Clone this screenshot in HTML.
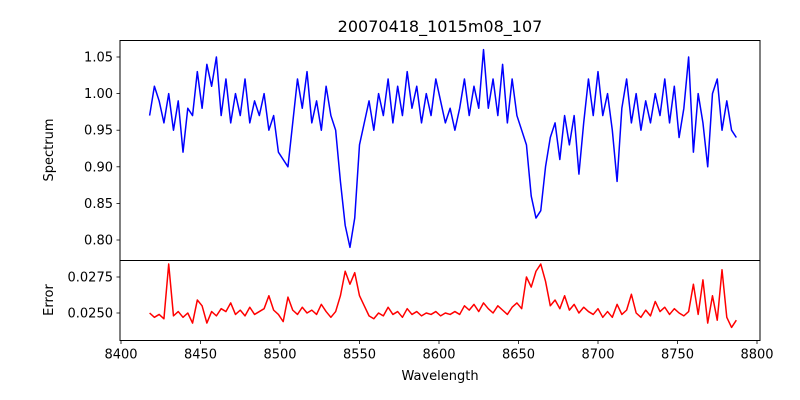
<!DOCTYPE html>
<html><head><meta charset="utf-8"><style>
body{margin:0;background:#fff;}
svg{display:block;font-family:"DejaVu Sans","Liberation Sans",sans-serif;}
</style></head><body>
<svg id="chart" width="800" height="400" xmlns="http://www.w3.org/2000/svg">
<rect width="800" height="400" fill="#fff"/>
<text x="440" y="32" font-size="16" text-anchor="middle">20070418_1015m08_107</text>
<g id="top"></g>
<g id="bot"></g>
<text x="440" y="380" font-size="13" text-anchor="middle">Wavelength</text>
<text transform="translate(53,150) rotate(-90)" font-size="13" text-anchor="middle">Spectrum</text>
<text transform="translate(53,300) rotate(-90)" font-size="13" text-anchor="middle">Error</text>
</svg>
<script>
const wavelengths = [8418,8421,8424,8427,8430,8433,8436,8439,8442,8445,8448,8451,8454,8457,8460,8463,8466,8469,8472,8475,8478,8481,8484,8487,8490,8493,8496,8499,8502,8505,8508,8511,8514,8517,8520,8523,8526,8529,8532,8535,8538,8541,8544,8547,8550,8553,8556,8559,8562,8565,8568,8571,8574,8577,8580,8583,8586,8589,8592,8595,8598,8601,8604,8607,8610,8613,8616,8619,8622,8625,8628,8631,8634,8637,8640,8643,8646,8649,8652,8655,8658,8661,8664,8667,8670,8673,8676,8679,8682,8685,8688,8691,8694,8697,8700,8703,8706,8709,8712,8715,8718,8721,8724,8727,8730,8733,8736,8739,8742,8745,8748,8751,8754,8757,8760,8763,8766,8769,8772,8775,8778,8781,8784,8787];
const spectrum = [0.97,1.01,0.99,0.96,1.00,0.95,0.99,0.92,0.98,0.97,1.03,0.98,1.04,1.01,1.05,0.97,1.02,0.96,1.00,0.97,1.02,0.96,0.99,0.97,1.00,0.95,0.97,0.92,0.91,0.90,0.96,1.02,0.98,1.03,0.96,0.99,0.95,1.01,0.97,0.95,0.88,0.82,0.79,0.83,0.93,0.96,0.99,0.95,1.00,0.97,1.02,0.96,1.01,0.97,1.03,0.98,1.01,0.96,1.00,0.97,1.02,0.99,0.96,0.98,0.95,0.98,1.02,0.97,1.01,0.98,1.06,0.98,1.02,0.97,1.04,0.96,1.02,0.97,0.95,0.93,0.86,0.83,0.84,0.90,0.94,0.96,0.91,0.97,0.93,0.97,0.89,0.96,1.02,0.97,1.03,0.97,1.00,0.95,0.88,0.98,1.02,0.96,1.00,0.95,0.99,0.96,1.00,0.97,1.02,0.96,1.01,0.94,0.98,1.05,0.92,1.00,0.96,0.90,1.00,1.02,0.95,0.99,0.95,0.94];
const errors = [0.0250,0.0247,0.0249,0.0246,0.0284,0.0248,0.0251,0.0247,0.0250,0.0243,0.0259,0.0255,0.0243,0.0251,0.0248,0.0253,0.0251,0.0257,0.0249,0.0252,0.0248,0.0254,0.0249,0.0251,0.0253,0.0262,0.0252,0.0249,0.0244,0.0261,0.0252,0.0249,0.0254,0.0250,0.0252,0.0249,0.0256,0.0251,0.0247,0.0251,0.0262,0.0279,0.0270,0.0278,0.0262,0.0255,0.0248,0.0246,0.0250,0.0248,0.0254,0.0249,0.0251,0.0247,0.0253,0.0249,0.0251,0.0248,0.0250,0.0249,0.0251,0.0248,0.0250,0.0249,0.0251,0.0249,0.0255,0.0252,0.0256,0.0251,0.0257,0.0253,0.0250,0.0255,0.0252,0.0249,0.0254,0.0257,0.0253,0.0275,0.0268,0.0279,0.0284,0.0272,0.0255,0.0259,0.0253,0.0262,0.0252,0.0256,0.0250,0.0254,0.0251,0.0249,0.0253,0.0247,0.0251,0.0247,0.0256,0.0249,0.0252,0.0263,0.0250,0.0247,0.0252,0.0248,0.0258,0.0251,0.0254,0.0249,0.0253,0.0250,0.0248,0.0251,0.0270,0.0249,0.0273,0.0243,0.0262,0.0245,0.0280,0.0247,0.0240,0.0245];
const xTicks = [8400,8450,8500,8550,8600,8650,8700,8750,8800];
const specTicks = [0.80,0.85,0.90,0.95,1.00,1.05];
const specTickLabels = ["0.80","0.85","0.90","0.95","1.00","1.05"];
const errTicks = [0.0250,0.0275];
const errTickLabels = ["0.0250","0.0275"];

const NS = "http://www.w3.org/2000/svg";
const X0 = 120, X1 = 760;
const xs = v => 121 + (v - 8400) * (636 / 400);
const ySpec = v => 57 + (1.05 - v) * 732;
const yErr = v => 313 - (v - 0.025) * (36 / 0.0025);
function mk(tag, attrs, parent) {
  const e = document.createElementNS(NS, tag);
  for (const k in attrs) e.setAttribute(k, attrs[k]);
  parent.appendChild(e);
  return e;
}
function panel(g, top, bottom, yfun, ticks, labels, vals, color, showX) {
  const n = Math.min(wavelengths.length, vals.length);
  let d = "";
  for (let i = 0; i < n; i++) d += (i ? "L" : "M") + xs(wavelengths[i]).toFixed(2) + "," + yfun(vals[i]).toFixed(2);
  const line = mk("path", {d: d, fill: "none", stroke: color, "stroke-width": 1.5, "stroke-linejoin": "round"}, g);
  
  
  ticks.forEach((t, i) => {
    const y = yfun(t);
    const tk = mk("line", {x1: X0 - 3.5, x2: X0, y1: y, y2: y, stroke: "#000", "stroke-width": 0.8}, g);
    
    
    const tx = mk("text", {x: X0 - 7, y: y + 4.5, "font-size": 13, "text-anchor": "end"}, g);
    tx.textContent = labels[i];
    
    
  });
  if (showX) {
    xTicks.forEach(t => {
      const x = xs(t);
      const tk = mk("line", {x1: x, x2: x, y1: bottom, y2: bottom + 3.5, stroke: "#000", "stroke-width": 0.8}, g);
      
      
      const tx = mk("text", {x: x, y: bottom + 18, "font-size": 13, "text-anchor": "middle"}, g);
      tx.textContent = t;
      
      
    });
  }
  const fr = mk("rect", {x: X0, y: top, width: X1 - X0, height: bottom - top, fill: "none", stroke: "#000", "stroke-width": 1}, g);
  
  
}
panel(document.getElementById("top"), 40.5, 260.5, ySpec, specTicks, specTickLabels, spectrum, "blue", false);
panel(document.getElementById("bot"), 260.5, 340.5, yErr, errTicks, errTickLabels, errors, "red", true);
</script>
</body></html>
